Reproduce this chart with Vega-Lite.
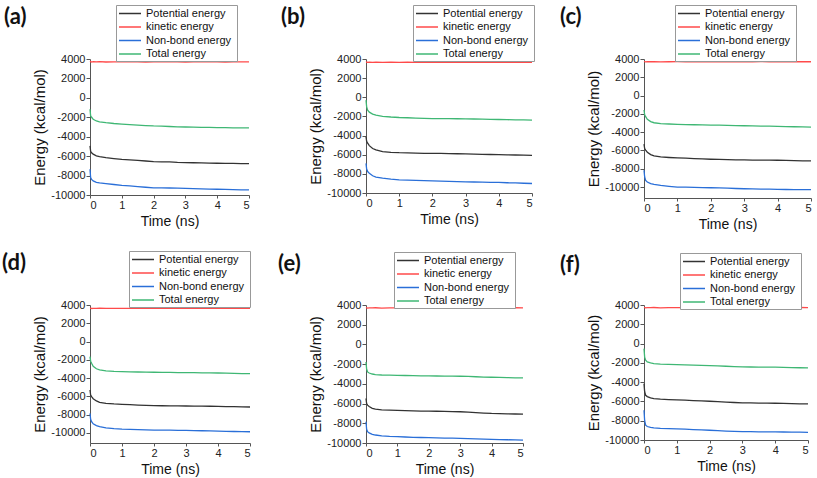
{
"$schema":"https://vega.github.io/schema/vega-lite/v6.json",
"padding":{"left":2,"top":4,"right":2,"bottom":2},
"datasets":{"d":[
{"p":"a","t":0,"P":-4950,"K":3700,"N":-7350,"T":-1170},
{"p":"a","t":0.02,"P":-5500,"K":3750,"N":-8200,"T":-1850},
{"p":"a","t":0.05,"P":-5650,"K":3690,"N":-8400,"T":-2000},
{"p":"a","t":0.1,"P":-5800,"K":3730,"N":-8550,"T":-2200},
{"p":"a","t":0.2,"P":-5970,"K":3700,"N":-8700,"T":-2380},
{"p":"a","t":0.3,"P":-6060,"K":3720,"N":-8760,"T":-2470},
{"p":"a","t":0.5,"P":-6160,"K":3690,"N":-8830,"T":-2560},
{"p":"a","t":0.75,"P":-6250,"K":3710,"N":-8920,"T":-2640},
{"p":"a","t":1,"P":-6330,"K":3700,"N":-9000,"T":-2700},
{"p":"a","t":1.25,"P":-6380,"K":3720,"N":-9060,"T":-2750},
{"p":"a","t":1.5,"P":-6440,"K":3700,"N":-9130,"T":-2800},
{"p":"a","t":1.75,"P":-6500,"K":3690,"N":-9200,"T":-2850},
{"p":"a","t":2,"P":-6560,"K":3710,"N":-9260,"T":-2890},
{"p":"a","t":2.25,"P":-6580,"K":3700,"N":-9270,"T":-2910},
{"p":"a","t":2.5,"P":-6600,"K":3720,"N":-9280,"T":-2950},
{"p":"a","t":2.75,"P":-6640,"K":3700,"N":-9300,"T":-2980},
{"p":"a","t":3,"P":-6660,"K":3690,"N":-9310,"T":-3000},
{"p":"a","t":3.25,"P":-6680,"K":3710,"N":-9340,"T":-3010},
{"p":"a","t":3.5,"P":-6700,"K":3700,"N":-9370,"T":-3030},
{"p":"a","t":3.75,"P":-6710,"K":3720,"N":-9390,"T":-3040},
{"p":"a","t":4,"P":-6730,"K":3700,"N":-9410,"T":-3060},
{"p":"a","t":4.25,"P":-6740,"K":3690,"N":-9430,"T":-3070},
{"p":"a","t":4.5,"P":-6750,"K":3710,"N":-9450,"T":-3080},
{"p":"a","t":4.75,"P":-6760,"K":3700,"N":-9470,"T":-3090},
{"p":"a","t":5,"P":-6770,"K":3710,"N":-9480,"T":-3100},
{"p":"b","t":0,"P":-4120,"K":3650,"N":-6900,"T":-300},
{"p":"b","t":0.02,"P":-4600,"K":3680,"N":-7500,"T":-1000},
{"p":"b","t":0.05,"P":-4800,"K":3640,"N":-7760,"T":-1350},
{"p":"b","t":0.1,"P":-5050,"K":3660,"N":-7950,"T":-1550},
{"p":"b","t":0.2,"P":-5350,"K":3650,"N":-8200,"T":-1750},
{"p":"b","t":0.3,"P":-5500,"K":3670,"N":-8330,"T":-1870},
{"p":"b","t":0.5,"P":-5680,"K":3640,"N":-8450,"T":-1990},
{"p":"b","t":0.75,"P":-5750,"K":3660,"N":-8560,"T":-2060},
{"p":"b","t":1,"P":-5790,"K":3650,"N":-8630,"T":-2110},
{"p":"b","t":1.25,"P":-5810,"K":3660,"N":-8660,"T":-2140},
{"p":"b","t":1.5,"P":-5830,"K":3640,"N":-8690,"T":-2170},
{"p":"b","t":1.75,"P":-5850,"K":3650,"N":-8710,"T":-2200},
{"p":"b","t":2,"P":-5860,"K":3660,"N":-8730,"T":-2220},
{"p":"b","t":2.25,"P":-5870,"K":3650,"N":-8760,"T":-2225},
{"p":"b","t":2.5,"P":-5890,"K":3640,"N":-8790,"T":-2235},
{"p":"b","t":2.75,"P":-5900,"K":3660,"N":-8820,"T":-2245},
{"p":"b","t":3,"P":-5920,"K":3650,"N":-8840,"T":-2250},
{"p":"b","t":3.25,"P":-5940,"K":3640,"N":-8850,"T":-2270},
{"p":"b","t":3.5,"P":-5960,"K":3660,"N":-8860,"T":-2290},
{"p":"b","t":3.75,"P":-5980,"K":3650,"N":-8880,"T":-2300},
{"p":"b","t":4,"P":-6000,"K":3640,"N":-8900,"T":-2320},
{"p":"b","t":4.25,"P":-6010,"K":3660,"N":-8930,"T":-2340},
{"p":"b","t":4.5,"P":-6030,"K":3650,"N":-8950,"T":-2360},
{"p":"b","t":4.75,"P":-6050,"K":3640,"N":-8980,"T":-2370},
{"p":"b","t":5,"P":-6060,"K":3650,"N":-9010,"T":-2390},
{"p":"c","t":0,"P":-5310,"K":3700,"N":-8170,"T":-1580},
{"p":"c","t":0.02,"P":-5800,"K":3720,"N":-8900,"T":-2100},
{"p":"c","t":0.05,"P":-5970,"K":3690,"N":-9270,"T":-2310},
{"p":"c","t":0.1,"P":-6200,"K":3710,"N":-9450,"T":-2600},
{"p":"c","t":0.2,"P":-6450,"K":3700,"N":-9620,"T":-2850},
{"p":"c","t":0.3,"P":-6600,"K":3720,"N":-9710,"T":-2970},
{"p":"c","t":0.5,"P":-6700,"K":3690,"N":-9820,"T":-3060},
{"p":"c","t":0.75,"P":-6770,"K":3700,"N":-9920,"T":-3110},
{"p":"c","t":1,"P":-6820,"K":3710,"N":-10000,"T":-3150},
{"p":"c","t":1.25,"P":-6850,"K":3700,"N":-10020,"T":-3170},
{"p":"c","t":1.5,"P":-6890,"K":3690,"N":-10040,"T":-3190},
{"p":"c","t":1.75,"P":-6930,"K":3710,"N":-10060,"T":-3210},
{"p":"c","t":2,"P":-6960,"K":3700,"N":-10080,"T":-3220},
{"p":"c","t":2.25,"P":-6980,"K":3720,"N":-10100,"T":-3240},
{"p":"c","t":2.5,"P":-7000,"K":3700,"N":-10130,"T":-3260},
{"p":"c","t":2.75,"P":-7020,"K":3690,"N":-10160,"T":-3280},
{"p":"c","t":3,"P":-7040,"K":3710,"N":-10190,"T":-3300},
{"p":"c","t":3.25,"P":-7050,"K":3700,"N":-10200,"T":-3320},
{"p":"c","t":3.5,"P":-7060,"K":3720,"N":-10220,"T":-3340},
{"p":"c","t":3.75,"P":-7060,"K":3700,"N":-10240,"T":-3350},
{"p":"c","t":4,"P":-7070,"K":3690,"N":-10260,"T":-3370},
{"p":"c","t":4.25,"P":-7090,"K":3710,"N":-10270,"T":-3390},
{"p":"c","t":4.5,"P":-7110,"K":3700,"N":-10280,"T":-3410},
{"p":"c","t":4.75,"P":-7130,"K":3720,"N":-10285,"T":-3420},
{"p":"c","t":5,"P":-7150,"K":3700,"N":-10290,"T":-3440},
{"p":"d","t":0,"P":-5300,"K":3630,"N":-7860,"T":-1640},
{"p":"d","t":0.02,"P":-5850,"K":3650,"N":-8500,"T":-2150},
{"p":"d","t":0.05,"P":-6030,"K":3620,"N":-8770,"T":-2380},
{"p":"d","t":0.1,"P":-6250,"K":3640,"N":-9000,"T":-2700},
{"p":"d","t":0.2,"P":-6500,"K":3630,"N":-9200,"T":-2980},
{"p":"d","t":0.3,"P":-6650,"K":3650,"N":-9320,"T":-3110},
{"p":"d","t":0.5,"P":-6760,"K":3620,"N":-9440,"T":-3200},
{"p":"d","t":0.75,"P":-6830,"K":3640,"N":-9530,"T":-3260},
{"p":"d","t":1,"P":-6870,"K":3630,"N":-9580,"T":-3290},
{"p":"d","t":1.25,"P":-6910,"K":3640,"N":-9610,"T":-3310},
{"p":"d","t":1.5,"P":-6950,"K":3620,"N":-9640,"T":-3330},
{"p":"d","t":1.75,"P":-6990,"K":3640,"N":-9670,"T":-3350},
{"p":"d","t":2,"P":-7020,"K":3630,"N":-9690,"T":-3360},
{"p":"d","t":2.25,"P":-7025,"K":3650,"N":-9695,"T":-3370},
{"p":"d","t":2.5,"P":-7030,"K":3630,"N":-9700,"T":-3380},
{"p":"d","t":2.75,"P":-7040,"K":3620,"N":-9710,"T":-3390},
{"p":"d","t":3,"P":-7050,"K":3640,"N":-9720,"T":-3400},
{"p":"d","t":3.25,"P":-7060,"K":3630,"N":-9740,"T":-3410},
{"p":"d","t":3.5,"P":-7070,"K":3650,"N":-9760,"T":-3420},
{"p":"d","t":3.75,"P":-7080,"K":3630,"N":-9780,"T":-3430},
{"p":"d","t":4,"P":-7090,"K":3620,"N":-9800,"T":-3440},
{"p":"d","t":4.25,"P":-7110,"K":3640,"N":-9820,"T":-3460},
{"p":"d","t":4.5,"P":-7130,"K":3630,"N":-9840,"T":-3480},
{"p":"d","t":4.75,"P":-7150,"K":3650,"N":-9860,"T":-3500},
{"p":"d","t":5,"P":-7160,"K":3630,"N":-9870,"T":-3510},
{"p":"e","t":0,"P":-5490,"K":3700,"N":-7840,"T":-1780},
{"p":"e","t":0.02,"P":-6000,"K":3720,"N":-8600,"T":-2500},
{"p":"e","t":0.05,"P":-6160,"K":3690,"N":-8850,"T":-2790},
{"p":"e","t":0.1,"P":-6300,"K":3710,"N":-8980,"T":-2900},
{"p":"e","t":0.2,"P":-6480,"K":3700,"N":-9120,"T":-3000},
{"p":"e","t":0.3,"P":-6560,"K":3720,"N":-9190,"T":-3060},
{"p":"e","t":0.5,"P":-6630,"K":3690,"N":-9280,"T":-3100},
{"p":"e","t":0.75,"P":-6670,"K":3700,"N":-9330,"T":-3120},
{"p":"e","t":1,"P":-6700,"K":3710,"N":-9360,"T":-3130},
{"p":"e","t":1.25,"P":-6720,"K":3700,"N":-9390,"T":-3150},
{"p":"e","t":1.5,"P":-6740,"K":3690,"N":-9420,"T":-3170},
{"p":"e","t":1.75,"P":-6760,"K":3710,"N":-9440,"T":-3190},
{"p":"e","t":2,"P":-6770,"K":3700,"N":-9460,"T":-3200},
{"p":"e","t":2.25,"P":-6780,"K":3720,"N":-9480,"T":-3205},
{"p":"e","t":2.5,"P":-6800,"K":3700,"N":-9500,"T":-3215},
{"p":"e","t":2.75,"P":-6815,"K":3690,"N":-9515,"T":-3220},
{"p":"e","t":3,"P":-6830,"K":3710,"N":-9530,"T":-3230},
{"p":"e","t":3.25,"P":-6870,"K":3700,"N":-9550,"T":-3250},
{"p":"e","t":3.5,"P":-6920,"K":3720,"N":-9580,"T":-3280},
{"p":"e","t":3.75,"P":-6960,"K":3700,"N":-9600,"T":-3310},
{"p":"e","t":4,"P":-7000,"K":3690,"N":-9630,"T":-3330},
{"p":"e","t":4.25,"P":-7020,"K":3710,"N":-9650,"T":-3350},
{"p":"e","t":4.5,"P":-7040,"K":3700,"N":-9670,"T":-3370},
{"p":"e","t":4.75,"P":-7060,"K":3720,"N":-9690,"T":-3390},
{"p":"e","t":5,"P":-7070,"K":3700,"N":-9700,"T":-3400},
{"p":"f","t":0,"P":-4150,"K":3720,"N":-6910,"T":-520},
{"p":"f","t":0.02,"P":-5000,"K":3740,"N":-8000,"T":-1400},
{"p":"f","t":0.05,"P":-5360,"K":3710,"N":-8470,"T":-1730},
{"p":"f","t":0.1,"P":-5500,"K":3730,"N":-8600,"T":-1900},
{"p":"f","t":0.2,"P":-5640,"K":3720,"N":-8700,"T":-2010},
{"p":"f","t":0.3,"P":-5700,"K":3740,"N":-8750,"T":-2070},
{"p":"f","t":0.5,"P":-5770,"K":3710,"N":-8800,"T":-2130},
{"p":"f","t":0.75,"P":-5810,"K":3720,"N":-8830,"T":-2160},
{"p":"f","t":1,"P":-5840,"K":3730,"N":-8850,"T":-2180},
{"p":"f","t":1.25,"P":-5870,"K":3720,"N":-8880,"T":-2200},
{"p":"f","t":1.5,"P":-5910,"K":3710,"N":-8920,"T":-2230},
{"p":"f","t":1.75,"P":-5950,"K":3730,"N":-8960,"T":-2260},
{"p":"f","t":2,"P":-5980,"K":3720,"N":-8990,"T":-2280},
{"p":"f","t":2.25,"P":-6020,"K":3740,"N":-9030,"T":-2310},
{"p":"f","t":2.5,"P":-6070,"K":3720,"N":-9070,"T":-2350},
{"p":"f","t":2.75,"P":-6110,"K":3710,"N":-9100,"T":-2390},
{"p":"f","t":3,"P":-6150,"K":3730,"N":-9130,"T":-2420},
{"p":"f","t":3.25,"P":-6160,"K":3720,"N":-9140,"T":-2430},
{"p":"f","t":3.5,"P":-6170,"K":3740,"N":-9150,"T":-2440},
{"p":"f","t":3.75,"P":-6180,"K":3720,"N":-9155,"T":-2445},
{"p":"f","t":4,"P":-6190,"K":3710,"N":-9160,"T":-2450},
{"p":"f","t":4.25,"P":-6210,"K":3730,"N":-9170,"T":-2470},
{"p":"f","t":4.5,"P":-6230,"K":3720,"N":-9180,"T":-2490},
{"p":"f","t":4.75,"P":-6245,"K":3740,"N":-9190,"T":-2505},
{"p":"f","t":5,"P":-6260,"K":3720,"N":-9200,"T":-2520}
]},
"data":{"name":"d"},
"columns":3,
"spacing":{"row":19,"column":25},
"resolve":{"scale":{"color":"independent","y":"independent","x":"independent"},"legend":{"color":"independent"}},
"concat":[
{"title":{"text":"(a)","dx":-86},"width":159,"height":136,
 "transform":[{"filter":"datum.p==='a'"},{"fold":["P","K","N","T"],"as":["s","E"]}],
 "mark":{"type":"line","strokeWidth":1.3},
 "encoding":{"x":{"field":"t","type":"quantitative","scale":{"domain":[0,5]},"axis":{"title":"Time (ns)","values":[0,1,2,3,4,5]}},
  "y":{"field":"E","type":"quantitative","scale":{"domain":[-10000,4000]},"axis":{"title":"Energy (kcal/mol)","values":[-10000,-8000,-6000,-4000,-2000,0,2000,4000],"labelExpr":"toString(datum.value)"}},
  "color":{"field":"s","type":"nominal","scale":{"domain":["P","K","N","T"],"range":["#333333","#ff4a4a","#2a6fd8","#3fb774"]},"legend":{"title":null,"legendX":26,"legendY":-54,"labelExpr":"datum.label=='P'?'Potential energy':datum.label=='K'?'kinetic  energy':datum.label=='N'?'Non-bond  energy':'Total  energy'"}}}},
{"title":{"text":"(b)","dx":-85},"width":166,"height":134,
 "transform":[{"filter":"datum.p==='b'"},{"fold":["P","K","N","T"],"as":["s","E"]}],
 "mark":{"type":"line","strokeWidth":1.3},
 "encoding":{"x":{"field":"t","type":"quantitative","scale":{"domain":[0,5]},"axis":{"title":"Time (ns)","values":[0,1,2,3,4,5]}},
  "y":{"field":"E","type":"quantitative","scale":{"domain":[-10000,4000]},"axis":{"title":"Energy (kcal/mol)","values":[-10000,-8000,-6000,-4000,-2000,0,2000,4000],"labelExpr":"toString(datum.value)"}},
  "color":{"field":"s","type":"nominal","scale":{"domain":["P","K","N","T"],"range":["#333333","#ff4a4a","#2a6fd8","#3fb774"]},"legend":{"title":null,"legendX":47,"legendY":-54,"labelExpr":"datum.label=='P'?'Potential energy':datum.label=='K'?'kinetic  energy':datum.label=='N'?'Non-bond  energy':'Total  energy'"}}}},
{"title":{"text":"(c)","dx":-84},"width":167,"height":139,
 "transform":[{"filter":"datum.p==='c'"},{"fold":["P","K","N","T"],"as":["s","E"]}],
 "mark":{"type":"line","strokeWidth":1.3},
 "encoding":{"x":{"field":"t","type":"quantitative","scale":{"domain":[0,5]},"axis":{"title":"Time (ns)","values":[0,1,2,3,4,5]}},
  "y":{"field":"E","type":"quantitative","scale":{"domain":[-11200,4000]},"axis":{"title":"Energy (kcal/mol)","values":[-10000,-8000,-6000,-4000,-2000,0,2000,4000],"labelExpr":"toString(datum.value)"}},
  "color":{"field":"s","type":"nominal","scale":{"domain":["P","K","N","T"],"range":["#333333","#ff4a4a","#2a6fd8","#3fb774"]},"legend":{"title":null,"legendX":31,"legendY":-54,"labelExpr":"datum.label=='P'?'Potential energy':datum.label=='K'?'kinetic  energy':datum.label=='N'?'Non-bond  energy':'Total  energy'"}}}},
{"title":{"text":"(d)","dx":-88},"width":160,"height":138,
 "transform":[{"filter":"datum.p==='d'"},{"fold":["P","K","N","T"],"as":["s","E"]}],
 "mark":{"type":"line","strokeWidth":1.3},
 "encoding":{"x":{"field":"t","type":"quantitative","scale":{"domain":[0,5]},"axis":{"title":"Time (ns)","values":[0,1,2,3,4,5]}},
  "y":{"field":"E","type":"quantitative","scale":{"domain":[-11100,4000]},"axis":{"title":"Energy (kcal/mol)","values":[-10000,-8000,-6000,-4000,-2000,0,2000,4000],"labelExpr":"toString(datum.value)"}},
  "color":{"field":"s","type":"nominal","scale":{"domain":["P","K","N","T"],"range":["#333333","#ff4a4a","#2a6fd8","#3fb774"]},"legend":{"title":null,"legendX":39,"legendY":-54,"labelExpr":"datum.label=='P'?'Potential energy':datum.label=='K'?'kinetic  energy':datum.label=='N'?'Non-bond  energy':'Total  energy'"}}}},
{"title":{"text":"(e)","dx":-88},"width":157,"height":138,
 "transform":[{"filter":"datum.p==='e'"},{"fold":["P","K","N","T"],"as":["s","E"]}],
 "mark":{"type":"line","strokeWidth":1.3},
 "encoding":{"x":{"field":"t","type":"quantitative","scale":{"domain":[0,5]},"axis":{"title":"Time (ns)","values":[0,1,2,3,4,5]}},
  "y":{"field":"E","type":"quantitative","scale":{"domain":[-10000,4000]},"axis":{"title":"Energy (kcal/mol)","values":[-10000,-8000,-6000,-4000,-2000,0,2000,4000],"labelExpr":"toString(datum.value)"}},
  "color":{"field":"s","type":"nominal","scale":{"domain":["P","K","N","T"],"range":["#333333","#ff4a4a","#2a6fd8","#3fb774"]},"legend":{"title":null,"legendX":28,"legendY":-53,"labelExpr":"datum.label=='P'?'Potential energy':datum.label=='K'?'kinetic  energy':datum.label=='N'?'Non-bond  energy':'Total  energy'"}}}},
{"title":{"text":"(f)","dx":-84},"width":164,"height":135,
 "transform":[{"filter":"datum.p==='f'"},{"fold":["P","K","N","T"],"as":["s","E"]}],
 "mark":{"type":"line","strokeWidth":1.3},
 "encoding":{"x":{"field":"t","type":"quantitative","scale":{"domain":[0,5]},"axis":{"title":"Time (ns)","values":[0,1,2,3,4,5]}},
  "y":{"field":"E","type":"quantitative","scale":{"domain":[-10000,4000]},"axis":{"title":"Energy (kcal/mol)","values":[-10000,-8000,-6000,-4000,-2000,0,2000,4000],"labelExpr":"toString(datum.value)"}},
  "color":{"field":"s","type":"nominal","scale":{"domain":["P","K","N","T"],"range":["#333333","#ff4a4a","#2a6fd8","#3fb774"]},"legend":{"title":null,"legendX":36,"legendY":-52,"labelExpr":"datum.label=='P'?'Potential energy':datum.label=='K'?'kinetic  energy':datum.label=='N'?'Non-bond  energy':'Total  energy'"}}}}
],
"config":{
 "view":{"stroke":null},
 "font":"Liberation Sans",
 "axis":{"grid":false,"domainColor":"#555","tickColor":"#555","tickSize":3,"labelFontSize":11,"labelColor":"#222","titleFontSize":15,"titleFontWeight":"normal","titleColor":"#111","labelPadding":1},
 "axisY":{"titlePadding":3,"tickSize":4},
 "axisX":{"titlePadding":4,"titleFontSize":14},
 "legend":{"orient":"none","symbolType":"M-1,0H3","symbolSize":121,"symbolStrokeWidth":1.5,"labelFontSize":11,"labelColor":"#111","strokeColor":"#999","fillColor":"white","padding":2,"rowPadding":1.5,"labelOffset":15},
 "title":{"anchor":"start","frame":"group","fontSize":22,"font":"Lato","fontWeight":"bold","color":"#111","offset":-24}
}
}
